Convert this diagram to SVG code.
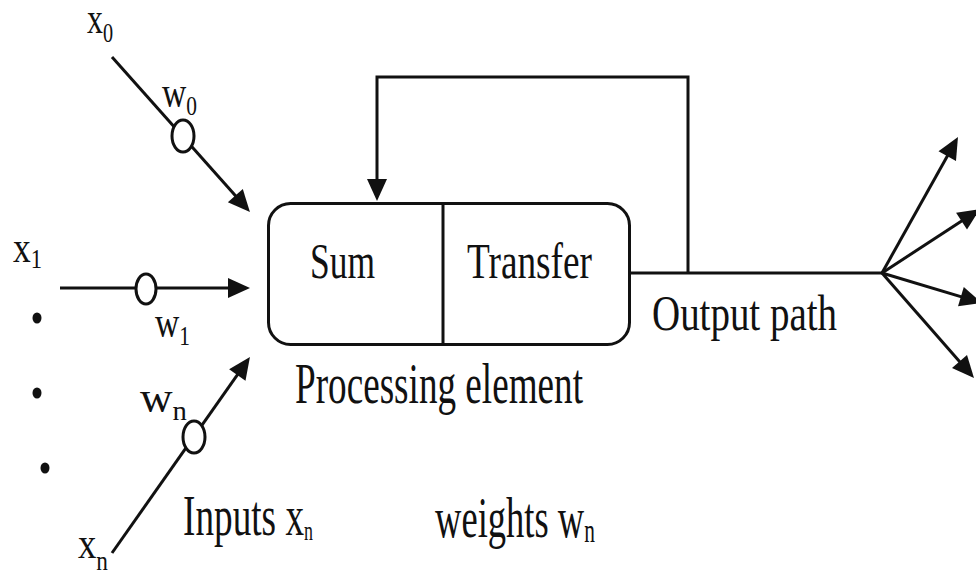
<svg xmlns="http://www.w3.org/2000/svg" width="976" height="571" viewBox="0 0 976 571">
  <style>
    .ln { fill: none; stroke: #111; stroke-width: 3; }
    .arr { marker-end: url(#head); }
    .wt { fill: #fff; stroke: #111; stroke-width: 3; }
    .dot { fill: #111; }
    text { font-family: "Liberation Serif", "Times New Roman", serif; fill: #111; }
    .big { font-size: 50px; }
    .cap { font-size: 58px; }
    .lab { font-size: 44px; }
    .sub { font-size: 28px; }
  </style>
  <defs>
    <marker id="head" markerUnits="userSpaceOnUse" markerWidth="24" markerHeight="22" refX="12" refY="10" orient="auto" overflow="visible">
      <path d="M0,0 L22,10 L0,20 Z" fill="#111"/>
    </marker>
  </defs>

  <rect width="976" height="571" fill="#fff"/>

  <!-- connectors -->
  <g id="connectors">
    <!-- inputs into the processing element -->
    <line class="ln arr" x1="112" y1="57" x2="243.3" y2="204.5"/>
    <line class="ln arr" x1="60" y1="288" x2="240" y2="288"/>
    <line class="ln arr" x1="112" y1="553" x2="244.2" y2="365.2"/>
    <!-- output path with feedback loop -->
    <polyline class="ln" points="631,273 882,273"/>
    <polyline class="ln arr" points="688,273 688,77 377,77 377,191"/>
    <!-- fan-out -->
    <line class="ln arr" x1="882" y1="273" x2="953.1" y2="145.7"/>
    <line class="ln arr" x1="882" y1="273" x2="971.6" y2="214.5"/>
    <line class="ln arr" x1="882" y1="273" x2="972.4" y2="300.1"/>
    <line class="ln arr" x1="882" y1="273" x2="967.4" y2="370.5"/>
  </g>

  <!-- weight nodes -->
  <g id="weight-0"><ellipse class="wt" cx="183" cy="136" rx="11" ry="16"/></g>
  <g id="weight-1"><ellipse class="wt" cx="146" cy="289" rx="10" ry="15"/></g>
  <g id="weight-n"><ellipse class="wt" cx="194" cy="437" rx="11" ry="16"/></g>

  <!-- processing element -->
  <g id="processing-element">
    <rect class="ln" x="268.5" y="203.5" width="361" height="141" rx="22" ry="22"/>
    <line class="ln" x1="443" y1="203.5" x2="443" y2="344.5"/>
    <text class="big" x="310" y="278" textLength="65" lengthAdjust="spacingAndGlyphs">Sum</text>
    <text class="big" x="467" y="278" textLength="125" lengthAdjust="spacingAndGlyphs">Transfer</text>
  </g>

  <!-- ellipsis dots -->
  <g id="dots">
    <ellipse class="dot" cx="37" cy="318" rx="4.5" ry="5.5"/>
    <ellipse class="dot" cx="37" cy="393" rx="4.5" ry="5.5"/>
    <ellipse class="dot" cx="45" cy="468" rx="4.5" ry="5.5"/>
  </g>

  <!-- input and weight labels -->
  <g id="labels">
    <text class="lab" x="87" y="33" textLength="26" lengthAdjust="spacingAndGlyphs">x<tspan class="sub" dy="9">0</tspan></text>
    <text class="lab" x="162" y="107" textLength="35" lengthAdjust="spacingAndGlyphs">w<tspan class="sub" dy="8">0</tspan></text>
    <text class="lab" x="13" y="262" textLength="29" lengthAdjust="spacingAndGlyphs">x<tspan class="sub" dy="6">1</tspan></text>
    <text class="lab" x="155" y="337" textLength="35" lengthAdjust="spacingAndGlyphs">w<tspan class="sub" dy="8">1</tspan></text>
    <text class="lab" x="140" y="412" textLength="47" lengthAdjust="spacingAndGlyphs">w<tspan class="sub" dy="8">n</tspan></text>
    <text class="lab" x="78" y="558" textLength="30" lengthAdjust="spacingAndGlyphs">x<tspan class="sub" dy="12">n</tspan></text>
  </g>

  <!-- captions -->
  <g id="captions">
    <text class="big" x="652" y="330" textLength="185" lengthAdjust="spacingAndGlyphs">Output path</text>
    <text class="cap" x="295" y="403" textLength="288" lengthAdjust="spacingAndGlyphs">Processing element</text>
    <text class="cap" x="183" y="535" textLength="130" lengthAdjust="spacingAndGlyphs">Inputs x<tspan class="sub" font-size="34" dy="5">n</tspan></text>
    <text class="cap" x="435" y="537" textLength="160" lengthAdjust="spacingAndGlyphs">weights w<tspan font-size="34" dy="5">n</tspan></text>
  </g>
</svg>
